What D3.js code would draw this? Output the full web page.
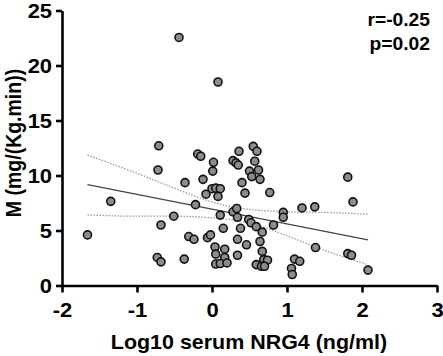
<!DOCTYPE html>
<html>
<head>
<meta charset="utf-8">
<script src="https://cdn.jsdelivr.net/npm/d3@7"></script>
<style>
  body { margin: 0; background: #fff; }
  svg { display: block; }
  text { font-family: "Liberation Sans", Arial, sans-serif; font-weight: bold; }
</style>
</head>
<body>
<div id="chart"></div>
<script>
// data
const nrg4 = [-1.66, -1.35, -0.71, -0.72, -0.68, -0.73, -0.68, -0.51, -0.44, -0.36,
  -0.37, -0.31, -0.24, -0.22, -0.19, -0.15, -0.12, -0.08, -0.06, -0.02,
  0.02, 0.01, 0.0, 0.05, 0.11, 0.08, 0.08, 0.11, 0.15, 0.04,
  0.05, 0.17, 0.17, 0.05, 0.11, 0.20, 0.28, 0.32, 0.35, 0.36,
  0.40, 0.44, 0.28, 0.33, 0.34, 0.38, 0.34, 0.34, 0.46, 0.55,
  0.60, 0.57, 0.50, 0.62, 0.53, 0.64, 0.77, 0.49, 0.52, 0.59,
  0.67, 0.64, 0.67, 0.69, 0.74, 0.59, 0.66, 0.70, 0.82, 0.95,
  0.95, 1.20, 1.37, 1.38, 1.10, 1.17, 1.06, 1.07, 1.81, 1.88,
  1.81, 1.86, 2.08];
const mValue = [4.6, 7.65, 12.7, 10.5, 5.5, 2.55, 2.15, 6.3, 22.55, 9.35,
  2.4, 4.45, 4.2, 7.35, 11.95, 11.75, 9.65, 8.3, 4.35, 4.6,
  11.2, 10.4, 8.8, 8.85, 8.8, 8.1, 18.5, 6.4, 5.2, 3.5,
  2.85, 3.3, 2.55, 1.95, 2.0, 2.05, 11.35, 11.15, 10.95, 12.2,
  9.35, 8.4, 6.7, 7.0, 6.2, 5.2, 4.2, 2.75, 3.7, 12.65,
  12.2, 11.3, 10.4, 10.5, 9.9, 9.65, 8.45, 6.0, 5.7, 5.35,
  4.85, 4.0, 3.1, 2.35, 2.3, 1.9, 1.75, 1.75, 5.5, 6.65,
  6.2, 7.05, 7.15, 3.45, 2.4, 2.2, 1.55, 1.0, 9.85, 7.6,
  2.9, 2.75, 1.4];

// fitted line and 95% band
const fitX = [-1.66, 2.08];
const fitY = [9.18, 4.15];
const bandX = [-1.66, -1, -0.5, 0, 0.3, 0.6, 1, 1.5, 2.08];
const bandUpper = [11.85, 10.2, 8.85, 7.6, 7.1, 6.85, 6.7, 6.64, 6.48];
const bandLower = [6.42, 6.3, 6.3, 6.15, 5.95, 5.5, 4.52, 3.2, 1.88];

const xTicks = [-2, -1, 0, 1, 2, 3];
const yTicks = [0, 5, 10, 15, 20, 25];
const stats = ["r=-0.25", "p=0.02"];

const width = 443, height = 356;
const sx = 1.1; // the glyphs in the original are a bit wide

const svg = d3.select("#chart").append("svg")
  .attr("width", width)
  .attr("height", height);

const x = d3.scaleLinear().domain([-2, 3]).range([62, 437]);
const y = d3.scaleLinear().domain([0, 25]).range([285.5, 10.5]);

// band + fit
const line = d3.line().x(d => x(d[0])).y(d => y(d[1]));
const curved = d3.line().x(d => x(d[0])).y(d => y(d[1])).curve(d3.curveMonotoneX);

[bandUpper, bandLower].forEach(b => {
  svg.append("path")
    .attr("d", curved(bandX.map((v, i) => [v, b[i]])))
    .attr("fill", "none")
    .attr("stroke", "#9a9a9a")
    .attr("stroke-width", 1.3)
    .attr("stroke-dasharray", "1.5,1.5");
});

svg.append("path")
  .attr("d", line(fitX.map((v, i) => [v, fitY[i]])))
  .attr("fill", "none")
  .attr("stroke", "#444")
  .attr("stroke-width", 1.3);

// points
svg.append("g").selectAll("circle")
  .data(nrg4.map((v, i) => [v, mValue[i]]))
  .join("circle")
  .attr("cx", d => x(d[0]))
  .attr("cy", d => y(d[1]))
  .attr("r", 4)
  .attr("fill", "#8c8c8c")
  .attr("stroke", "#111")
  .attr("stroke-width", 1.6);

// axes
const xAxis = svg.append("g")
  .attr("transform", `translate(0,${y(0)})`)
  .call(d3.axisBottom(x).tickValues(xTicks).tickFormat(d => String(d))
    .tickSize(7).tickSizeOuter(0).tickPadding(10));

const yAxis = svg.append("g")
  .attr("transform", `translate(${x(-2)},0)`)
  .call(d3.axisLeft(y).tickValues(yTicks).tickFormat(d => String(d))
    .tickSize(6).tickSizeOuter(0).tickPadding(3));

[xAxis, yAxis].forEach(g => {
  g.select(".domain").attr("stroke", "#000").attr("stroke-width", 2.6);
  g.selectAll(".tick line").attr("stroke", "#000").attr("stroke-width", 2.6);
  g.selectAll(".tick text")
    .attr("fill", "#000")
    .attr("transform", `scale(${sx},1)`)
    .style("font-size", "20px")
    .style("font-family", "'Liberation Sans', Arial, sans-serif")
    .style("font-weight", "bold");
});
yAxis.selectAll(".tick text").attr("dy", "0.36em");

// titles
svg.append("text")
  .attr("transform", `translate(249,349) scale(${sx},1)`)
  .attr("text-anchor", "middle")
  .style("font-size", "19.5px")
  .text("Log10 serum NRG4 (ng/ml)");

svg.append("text")
  .attr("transform", `translate(21,143) scale(${sx},1) rotate(-90)`)
  .attr("text-anchor", "middle")
  .style("font-size", "19.5px")
  .text("M (mg/(Kg.min))");

svg.append("g").selectAll("text")
  .data(stats)
  .join("text")
  .attr("transform", (d, i) => `translate(430,${26 + i * 24}) scale(1.07,1)`)
  .attr("text-anchor", "end")
  .style("font-size", "18px")
  .text(d => d);
</script>
</body>
</html>
